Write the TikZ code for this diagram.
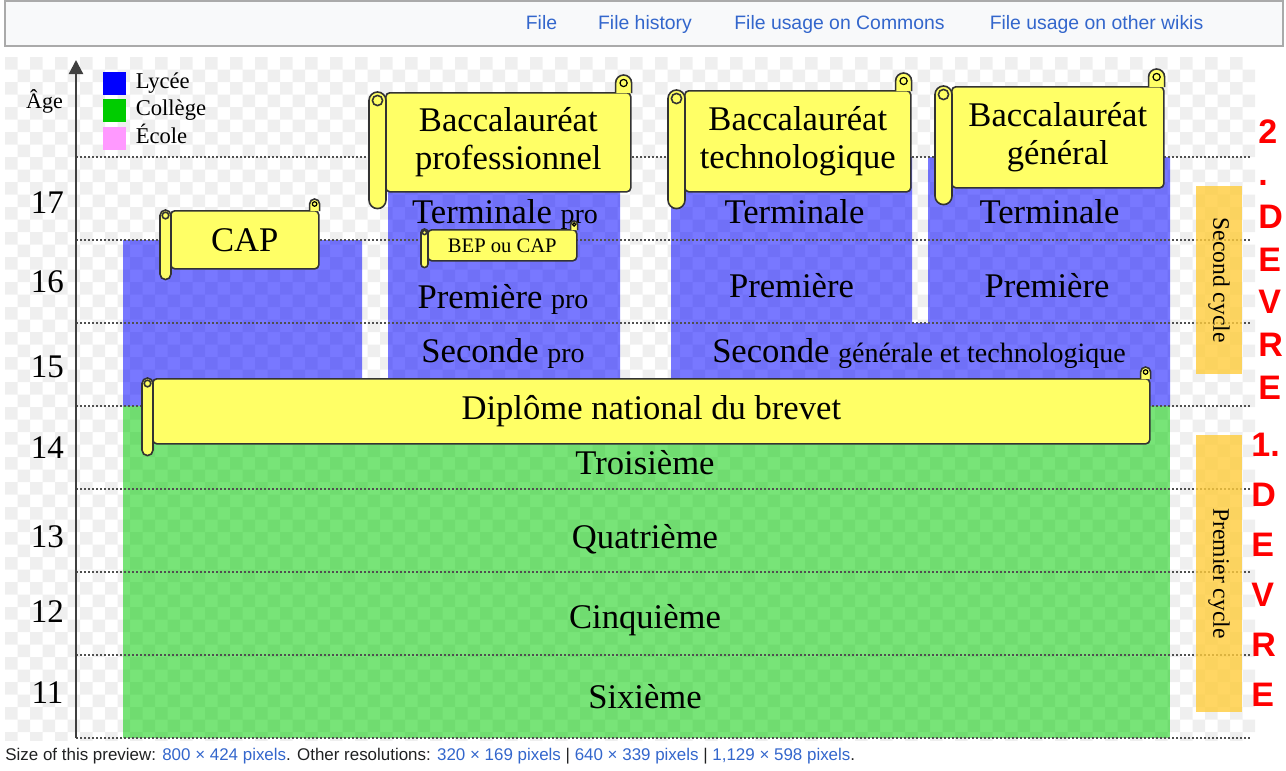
\documentclass[tikz,border=0pt]{standalone}
\usepackage{fontspec}
\setmainfont{Liberation Serif}
\setsansfont{Liberation Sans}
\usepackage{tikz}
\usetikzlibrary{positioning, calc, arrows.meta}

\definecolor{lyceeblue}{RGB}{0,0,255}
\definecolor{collegegreen}{RGB}{0,204,0}
\definecolor{ecolepink}{RGB}{255,153,255}
\definecolor{scrollyellow}{RGB}{255,255,102}
\definecolor{cycleorange}{RGB}{255,204,60}
\definecolor{checkgray}{RGB}{239,239,239}
\definecolor{gridgray}{RGB}{80,80,80}
\definecolor{linkblue}{RGB}{51,102,204}
\definecolor{tabfill}{RGB}{248,249,250}
\definecolor{tabborder}{RGB}{170,170,170}
\definecolor{pagetext}{RGB}{32,33,34}
\definecolor{devrered}{RGB}{255,0,0}

\tikzset{
    lycee/.style = {fill=lyceeblue, fill opacity=0.53},
    college/.style = {fill=collegegreen, fill opacity=0.53},
    ageline/.style = {draw=gridgray, line width=0.8pt, dash pattern=on 1pt off 1pt},
    axis/.style = {draw=black!75, line width=1.1pt, -{Triangle[width=7pt,length=7pt]}},
    scroll/.style = {
        draw=black!80, fill=scrollyellow,
        line width=0.8pt, rounded corners=2pt,
        align=center, inner sep=0pt,
        font=\fontsize{17.3}{19}\selectfont
    },
    scrollpart/.style = {draw=black!80, fill=scrollyellow, line width=0.8pt},
    classe/.style = {anchor=base, inner sep=0pt, font=\fontsize{17.3}{20}\selectfont},
    age/.style = {anchor=base, inner sep=0pt, font=\fontsize{16.5}{20}\selectfont},
    legbox/.style = {minimum size=11.5pt, inner sep=0pt},
    legtext/.style = {inner sep=0pt, text height=7.5pt, text depth=2.5pt, font=\fontsize{11.3}{13}\selectfont},
    cyclebox/.style = {
        fill=cycleorange, fill opacity=0.8, text opacity=1,
        rotate=-90, inner sep=0pt,
        font=\fontsize{11.8}{14}\selectfont
    },
    devre/.style = {text=devrered, align=left, inner sep=0pt, anchor=north west},
    tab/.style = {text=linkblue, anchor=base, inner sep=0pt, font=\sffamily\fontsize{9.7}{12}\selectfont}
}

\newcommand{\petit}[1]{{\fontsize{14}{16}\selectfont #1}}

% roll on the left and curl on the top right of a scroll (sizes in px)
\newcommand{\scrollends}[4]{%
    \pgfmathsetmacro{\rollr}{#2*0.25}
    \pgfmathsetmacro{\curlr}{#4*0.5}
    \draw[scrollpart, rounded corners=\rollr pt]
        ($(#1.north west)+(1-#2,0)$) rectangle ($(#1.south west)+(1,#3)$);
    \draw[scrollpart] ($(#1.north west)+(1-#2/2,#2/2)$) circle[radius=#2*0.3];
    \filldraw[scrollpart] ($(#1.north east)+(-2*#4,1)$) -- ++(0,-#4-2)
        arc[start angle=180, end angle=0, radius=\curlr pt] -- ++(0,#4+2);
    \draw[line width=0.6pt] ($(#1.north east)+(-#4,-#4-1)$) circle[radius=#4*0.45];
}

\begin{document}
\begin{tikzpicture}[x=0.5pt, y=-0.5pt]

    \useasboundingbox (0,0) rectangle (1286,771);

    % Tabs
    \draw[draw=tabborder, fill=tabfill, line width=1pt] (5,1) rectangle (1283,46);
    \node[tab] (tabfile) at (541.5,30) {File};
    \node[tab] (tabhistory) at (645,30) {File history};
    \node[tab] (tabcommons) at (839.5,30) {File usage on Commons};
    \node[tab] (tabwikis) at (1096.5,30) {File usage on other wikis};

    % Checker background
    \begin{scope}
        \clip (5,57) rectangle (1255,740);
        \fill[checkgray]
            \foreach \i in {0,2,...,98} {\foreach \j in {0,2,...,54} {(5+12.5*\i,57+12.5*\j) rectangle ++(12.5,12.5)}}
            \foreach \i in {1,3,...,99} {\foreach \j in {1,3,...,53} {(5+12.5*\i,57+12.5*\j) rectangle ++(12.5,12.5)}};
    \end{scope}

    % Lycee and college
    \fill[lycee] (123,240) rectangle (362,406)
                 (388,157) rectangle (620,406)
                 (671,157) rectangle (912,323)
                 (928,157) rectangle (1170,323)
                 (671,323) rectangle (1170,406);
    \fill[college] (123,406) rectangle (1170,738);

    % Age lines
    \foreach \y in {157,240,323,406,489,572,655,738}
        \draw[ageline] (76,\y) -- (1252,\y);

    % Axis
    \coordinate (origin) at (76,738);
    \coordinate (axistop) at (76,60);
    \draw[axis] (origin) -- (axistop);
    \node[anchor=base, inner sep=0pt, font=\fontsize{11}{13}\selectfont] (agelabel) at (44.5,108) {Âge};
    \node[age] (age17) at (47.5,213) {17};
    \node[age] (age16) at (47.5,292) {16};
    \node[age] (age15) at (47.5,377) {15};
    \node[age] (age14) at (47.5,458) {14};
    \node[age] (age13) at (47.5,547) {13};
    \node[age] (age12) at (47.5,622) {12};
    \node[age] (age11) at (47.5,703) {11};

    % Legend
    \node[legbox, fill=lyceeblue] (lyceebox) at (114,83) {};
    \node[legbox, fill=collegegreen, below=2pt of lyceebox] (collegebox) {};
    \node[legbox, fill=ecolepink, below=2pt of collegebox] (ecolebox) {};
    \node[legtext, right=4.75pt of lyceebox] (lyceetext) {Lycée};
    \node[legtext, right=4.75pt of collegebox] (collegetext) {Collège};
    \node[legtext, right=4.75pt of ecolebox] (ecoletext) {École};

    % Cycles
    \node[cyclebox, minimum width=94pt, minimum height=23pt] (secondcycle) at (1219,280) {Second cycle};
    \node[cyclebox, minimum width=138.5pt, minimum height=23pt] (premiercycle) at (1219,573.5) {Premier cycle};

    % Classes
    \node[classe] (termpro) at (505,223) {Terminale \petit{pro}};
    \node[classe] (prempro) at (503,308) {Première \petit{pro}};
    \node[classe] (secpro) at (503,362) {Seconde \petit{pro}};
    \node[classe] (termtechno) at (794.5,223) {Terminale};
    \node[classe] (premtechno) at (791.5,297) {Première};
    \node[classe] (termgen) at (1049.5,223) {Terminale};
    \node[classe] (premgen) at (1047,297) {Première};
    \node[classe] (secgt) at (919,362) {Seconde \petit{générale et technologique}};
    \node[classe] (troisieme) at (645,474) {Troisième};
    \node[classe] (quatrieme) at (645,548) {Quatrième};
    \node[classe] (cinquieme) at (645,628) {Cinquième};
    \node[classe] (sixieme) at (645,708) {Sixième};

    % Diplomes
    \node[scroll, anchor=north west, minimum width=74pt, minimum height=29pt] (cap) at (170,210) {CAP};
    \scrollends{cap}{11}{10}{5}
    \node[scroll, anchor=north west, minimum width=122.5pt, minimum height=49.5pt] (bacpro) at (385,92) {Baccalauréat\\professionnel};
    \scrollends{bacpro}{17}{16}{8}
    \node[scroll, anchor=north west, minimum width=113pt, minimum height=50.5pt] (bactechno) at (684,90) {Baccalauréat\\technologique};
    \scrollends{bactechno}{17}{16}{8}
    \node[scroll, anchor=north west, minimum width=106pt, minimum height=50.5pt] (bacgen) at (951,86) {Baccalauréat\\général};
    \scrollends{bacgen}{17}{16}{8}
    \node[scroll, anchor=north west, minimum width=74.5pt, minimum height=15.5pt,
        font=\fontsize{10.3}{12}\selectfont] (bep) at (427,229) {BEP ou CAP};
    \scrollends{bep}{7}{6}{3.5}
    \node[scroll, anchor=north west, minimum width=498.5pt, minimum height=32.5pt] (dnb) at (152,378) {Diplôme national du brevet};
    \scrollends{dnb}{11}{11}{5}

    % Devre
    \node[devre, font=\sffamily\bfseries\fontsize{17}{21.35}\selectfont] (devre2) at (1258,119) {2\\.\\D\\E\\V\\R\\E};
    \node[devre, font=\sffamily\bfseries\fontsize{17}{25}\selectfont] (devre1) at (1251,433) {1.\\D\\E\\V\\R\\E};

    % Preview line
    \node[anchor=base west, inner sep=0pt, text=pagetext, font=\sffamily\fontsize{8.47}{10}\selectfont] (preview) at (5,760)
        {Size of this preview: \textcolor{linkblue}{800 × 424 pixels}. Other resolutions: \textcolor{linkblue}{320 × 169 pixels} | \textcolor{linkblue}{640 × 339 pixels} | \textcolor{linkblue}{1,129 × 598 pixels}.};

\end{tikzpicture}
\end{document}
